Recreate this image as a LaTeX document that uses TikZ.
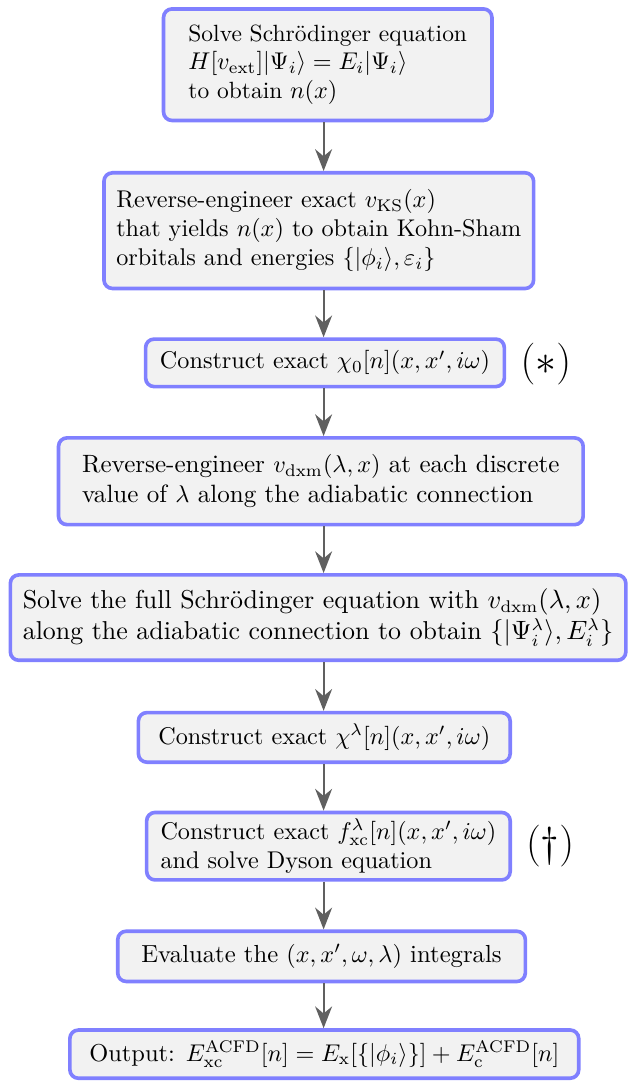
\documentclass[tikz,border=0pt]{standalone}
\usepackage{xcolor}
\usepackage{tikz}
\usetikzlibrary{arrows.meta, positioning, calc}
\usepackage{amsmath,amssymb}
\definecolor{edge}{HTML}{8080FF}
\definecolor{panel}{HTML}{F2F2F2}
\definecolor{flow}{HTML}{606060}
\newcommand{\fs}[1]{\fontsize{#1}{1.2\dimexpr#1pt\relax}\selectfont}

\begin{document}
\begin{tikzpicture}[
    stage/.style={rectangle, rounded corners=3.5pt, draw=edge, fill=panel,
                  line width=1.5pt, align=left, inner sep=2pt},
    arr/.style={-{Stealth[length=9pt, width=7pt]}, line width=0.9pt, flow},
    tag/.style={font=\fs{18.8}}
]
\useasboundingbox (0,0) rectangle (9.136,-15.715);
\coordinate (spine) at (4.70,0);

\node[stage, font=\fs{9.7}, minimum width=4.77cm, minimum height=1.62cm] (solve) at (4.76,-0.94)
  {Solve Schr\"odinger equation\\ $H[v_{\mathrm{ext}}]|\Psi_i\rangle = E_i|\Psi_i\rangle$\\ to obtain $n(x)$};
\node[stage, minimum width=6.24cm, minimum height=1.68cm] (ks) at (4.63,-3.35)
  {Reverse-engineer exact $v_{\mathrm{KS}}(x)$\\ that yields $n(x)$ to obtain Kohn-Sham\\ orbitals and energies $\{|\phi_i\rangle, \varepsilon_i\}$};
\node[stage, minimum width=5.21cm, minimum height=0.69cm] (chi0) at (4.72,-5.27)
  {Construct exact $\chi_0[n](x,x',i\omega)$};
\node[stage, font=\fs{10.35}, minimum width=7.62cm, minimum height=1.26cm] (dxm) at (4.66,-6.99)
  {Reverse-engineer $v_{\mathrm{dxm}}(\lambda,x)$ at each discrete\\ value of $\lambda$ along the adiabatic connection};
\node[stage, font=\fs{10.7}, minimum width=8.94cm, minimum height=1.24cm] (full) at (4.62,-8.97)
  {Solve the full Schr\"odinger equation with $v_{\mathrm{dxm}}(\lambda,x)$\\ along the adiabatic connection to obtain $\{|\Psi_i^\lambda\rangle, E_i^\lambda\}$};
\node[stage, minimum width=5.40cm, minimum height=0.72cm] (chil) at (4.71,-10.71)
  {Construct exact $\chi^\lambda[n](x,x',i\omega)$};
\node[stage, minimum width=5.28cm, minimum height=0.98cm] (fxc) at (4.77,-12.29)
  {Construct exact $f_{\mathrm{xc}}^\lambda[n](x,x',i\omega)$\\ and solve Dyson equation};
\node[stage, font=\fs{10.2}, minimum width=5.92cm, minimum height=0.73cm] (integ) at (4.67,-13.89)
  {Evaluate the $(x,x',\omega,\lambda)$ integrals};
\node[stage, font=\fs{10.1}, minimum width=7.39cm, minimum height=0.70cm] (out) at (4.71,-15.31)
  {Output: $E_{\mathrm{xc}}^{\mathrm{ACFD}}[n] = E_{\mathrm{x}}[\{|\phi_i\rangle\}] + E_{\mathrm{c}}^{\mathrm{ACFD}}[n]$};

% flow arrows
\foreach \a/\b in {solve/ks, ks/chi0, chi0/dxm, dxm/full, full/chil, chil/fxc, fxc/integ, integ/out}
  \draw[arr] (\a.south -| spine) -- (\b.north -| spine);

\node[tag] (star) at (7.93,-5.29) {$(\ast)$};
\node[tag] (dagger) at (7.99,-12.29) {$(\dagger)$};
\end{tikzpicture}
\end{document}
